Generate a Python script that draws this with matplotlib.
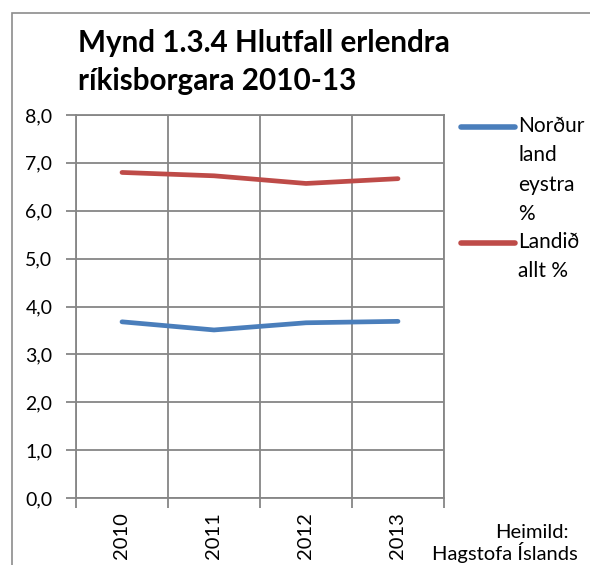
import matplotlib

matplotlib.use("Agg")

import matplotlib.pyplot as plt
from matplotlib.lines import Line2D
from matplotlib.patches import Rectangle
from matplotlib.ticker import FuncFormatter, FixedLocator

plt.rcParams["font.family"] = ["Lato", "DejaVu Sans"]

years = ["2010", "2011", "2012", "2013"]
nordurland = [3.68, 3.51, 3.66, 3.69]
landid = [6.80, 6.73, 6.57, 6.67]
series_labels = ["Norður\nland\neystra\n%", "Landið\nallt %"]
title = "Mynd 1.3.4 Hlutfall erlendra\nríkisborgara 2010-13"
source_lines = ["Heimild:", "Hagstofa Íslands"]

GRID = "#868686"
BLUE = "#4a7ebb"
RED = "#be4b48"
W, H = 590, 565


def fx(px):
    return px / W


def fy(py):
    return 1 - py / H


fig = plt.figure(figsize=(5.9, 5.65), dpi=100)
fig.patches.append(Rectangle((fx(12), -0.1), 1.2, fy(13) + 0.1,
                             transform=fig.transFigure, fill=False,
                             edgecolor="#8c8c8c", linewidth=1.2))

ax = fig.add_axes([fx(76), fy(498), fx(368), 383 / H])
x = list(range(len(years)))
ax.plot(x, nordurland, color=BLUE, lw=3.4, solid_capstyle="round")
ax.plot(x, landid, color=RED, lw=3.4, solid_capstyle="round")

ax.set_xlim(-0.5, len(years) - 0.5)
ax.set_ylim(0, 8)
ax.set_yticks(range(0, 9))
ax.yaxis.set_major_formatter(FuncFormatter(lambda v, p: f"{v:.1f}".replace(".", ",")))
ax.set_xticks(x)
ax.set_xticklabels(years, rotation=90, fontsize=14.5)
ax.xaxis.set_minor_locator(FixedLocator([i - 0.5 for i in range(len(years) + 1)]))
ax.tick_params(axis="x", which="major", length=0, pad=10)
ax.tick_params(axis="x", which="minor", length=7, color=GRID, width=1.3)
ax.tick_params(axis="y", length=7, color=GRID, width=1.3, labelsize=14, pad=10)
ax.grid(axis="y", which="major", color=GRID, lw=1.3)
ax.grid(axis="x", which="minor", color=GRID, lw=1.3)
ax.set_axisbelow(True)
for s in ax.spines.values():
    s.set_color(GRID)
    s.set_linewidth(1.3)

fig.text(fx(78), fy(62), title, fontsize=21.3, fontweight="bold",
         ha="left", va="center", linespacing=1.4)

# legend: handle beside the first line of each label
legend_rows = [(BLUE, series_labels[0], 127), (RED, series_labels[1], 243)]
for color, label, ypx in legend_rows:
    fig.add_artist(Line2D([fx(461), fx(515)], [fy(ypx), fy(ypx)], color=color,
                          lw=4, solid_capstyle="round", transform=fig.transFigure))
    fig.text(fx(518), fy(ypx - 11), label, fontsize=15, ha="left", va="top",
             linespacing=1.58)

fig.text(fx(569), fy(538), source_lines[0], fontsize=14.5, ha="right", va="baseline")
fig.text(fx(578), fy(560), source_lines[1], fontsize=14.5, ha="right", va="baseline")

fig.savefig("out.png", dpi=100)
